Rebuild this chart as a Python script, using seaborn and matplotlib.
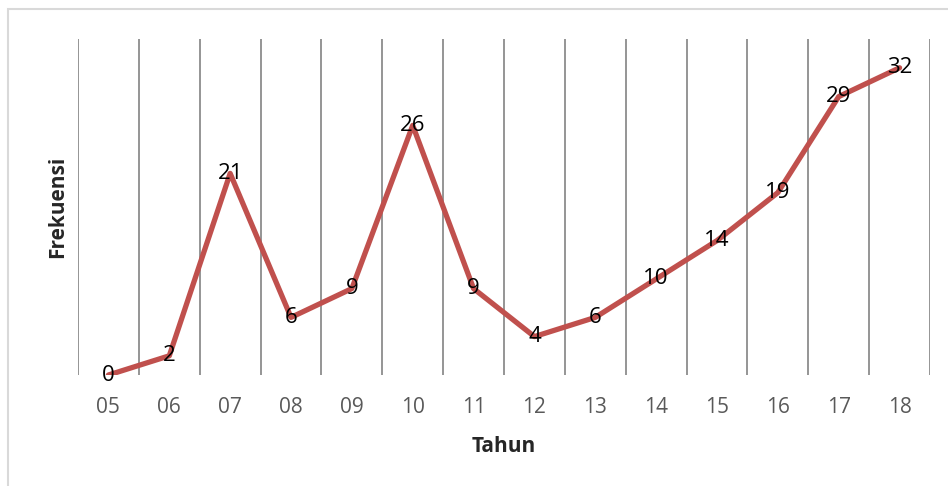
import matplotlib
matplotlib.use("Agg")
import matplotlib.pyplot as plt
import seaborn as sns
import pandas as pd
from matplotlib.patches import Rectangle

# Yearly frequency counts
tahun = ["05", "06", "07", "08", "09", "10", "11", "12", "13", "14", "15", "16", "17", "18"]
frekuensi = [0, 2, 21, 6, 9, 26, 9, 4, 6, 10, 14, 19, 29, 32]

df = pd.DataFrame({"Tahun": tahun, "Frekuensi": frekuensi})

sns.set_style("white")
plt.rcParams["font.family"] = ["Open Sans", "DejaVu Sans"]

W, H = 948, 486
fig = plt.figure(figsize=(W / 100, H / 100), dpi=100)
ax = fig.add_axes([78 / W, 1 - 375 / H, (930 - 78) / W, (375 - 39) / H])

x = list(range(len(tahun)))
df["pos"] = x
sns.lineplot(data=df, x="pos", y="Frekuensi", ax=ax, color="#C0504D",
             linewidth=3.8, solid_capstyle="round", solid_joinstyle="round")

ax.set_xlim(-0.5, len(tahun) - 0.5)
ax.set_ylim(0, 35)

# vertical gridlines on category boundaries
for b in range(len(tahun) + 1):
    ax.axvline(b - 0.5, color="#8C8C8C", linewidth=1.3, zorder=0)

# value labels centred on each point
for xi, v in zip(x, frekuensi):
    ax.text(xi, v, str(v), ha="center", va="center", fontsize=16,
            color="black", zorder=5)

ax.set_xticks(x)
ax.set_xticklabels(tahun, fontsize=15, color="#595959")
ax.tick_params(axis="x", length=0, pad=16)
ax.set_yticks([])
for s in ax.spines.values():
    s.set_visible(False)

ax.set_xlabel("Tahun", fontsize=15, fontweight="bold")
ax.set_ylabel("Frekuensi", fontsize=15, fontweight="bold")
ax.xaxis.set_label_coords((504 - 78) / (930 - 78), -(436 - 375) / (375 - 39))
ax.yaxis.set_label_coords(-(78 - 68) / (930 - 78), (375 - 207) / (375 - 39))

# chart area border
fig.patches.append(Rectangle((8 / W, -0.1), 1.2, 1 - 9 / H + 0.1,
                             transform=fig.transFigure, fill=False,
                             edgecolor="#D9D9D9", linewidth=1.5))

fig.savefig("out.png", dpi=100)
